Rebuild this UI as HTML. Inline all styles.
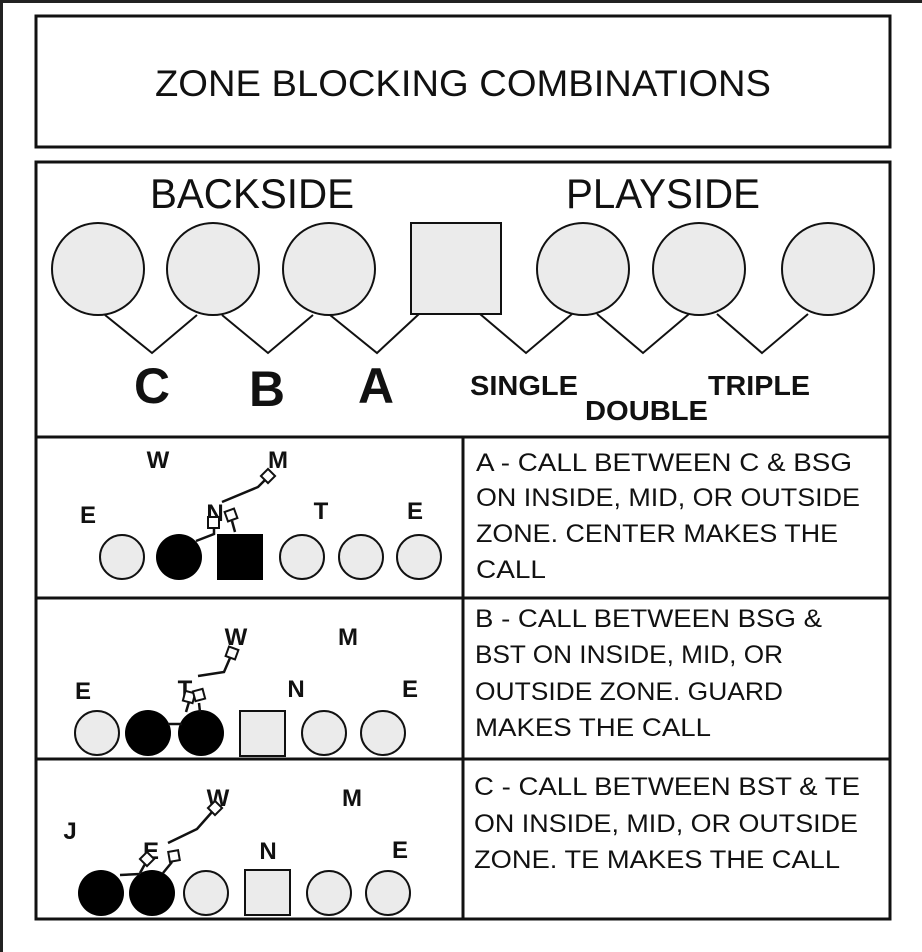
<!DOCTYPE html>
<html><head><meta charset="utf-8"><style>
html,body{margin:0;padding:0;background:#fff;}
svg{display:block;}
text{font-family:"Liberation Sans",sans-serif;fill:#111;}
.b{font-weight:bold;}
</style></head><body>
<svg width="922" height="952" viewBox="0 0 922 952" xmlns="http://www.w3.org/2000/svg">
<rect x="0" y="0" width="922" height="952" fill="#fff"/>
<rect x="0" y="0" width="922" height="3" fill="#222"/>
<rect x="0" y="0" width="3" height="952" fill="#222"/>
<!-- title box -->
<rect x="36" y="16" width="854" height="131" fill="none" stroke="#111" stroke-width="3"/>
<text x="463" y="96" font-size="37" text-anchor="middle" textLength="616" lengthAdjust="spacingAndGlyphs">ZONE BLOCKING COMBINATIONS</text>
<!-- main box -->
<rect x="36" y="162" width="854" height="757" fill="none" stroke="#111" stroke-width="3"/>
<line x1="36" y1="437" x2="890" y2="437" stroke="#111" stroke-width="3"/>
<line x1="36" y1="598" x2="890" y2="598" stroke="#111" stroke-width="3"/>
<line x1="36" y1="759" x2="890" y2="759" stroke="#111" stroke-width="3"/>
<line x1="463" y1="437" x2="463" y2="919" stroke="#111" stroke-width="3"/>

<text x="252" y="208" font-size="42" text-anchor="middle" textLength="204" lengthAdjust="spacingAndGlyphs">BACKSIDE</text>
<text x="663" y="208" font-size="42" text-anchor="middle" textLength="194" lengthAdjust="spacingAndGlyphs">PLAYSIDE</text>

<g fill="#ebebeb" stroke="#111" stroke-width="2">
<circle cx="98" cy="269" r="46"/>
<circle cx="213" cy="269" r="46"/>
<circle cx="329" cy="269" r="46"/>
<rect x="411" y="223" width="90" height="91"/>
<circle cx="583" cy="269" r="46"/>
<circle cx="699" cy="269" r="46"/>
<circle cx="828" cy="269" r="46"/>
</g>
<g fill="none" stroke="#111" stroke-width="2">
<polyline points="105,315 152,353 197,315"/>
<polyline points="222,315 268,353 313,315"/>
<polyline points="330,315 377,353 419,314"/>
<polyline points="480,314 526,353 572,314"/>
<polyline points="597,314 643,353 689,314"/>
<polyline points="717,314 762,353 808,314"/>
</g>
<text class="b" x="152" y="403" font-size="50" text-anchor="middle" textLength="36" lengthAdjust="spacingAndGlyphs">C</text>
<text class="b" x="267" y="406" font-size="50" text-anchor="middle" textLength="36" lengthAdjust="spacingAndGlyphs">B</text>
<text class="b" x="376" y="403" font-size="50" text-anchor="middle" textLength="36" lengthAdjust="spacingAndGlyphs">A</text>
<text class="b" x="470" y="395" font-size="28" textLength="108" lengthAdjust="spacingAndGlyphs">SINGLE</text>
<text class="b" x="585" y="420" font-size="28" textLength="123" lengthAdjust="spacingAndGlyphs">DOUBLE</text>
<text class="b" x="708" y="395" font-size="28" textLength="102" lengthAdjust="spacingAndGlyphs">TRIPLE</text>

<!-- Row 1 -->
<g fill="#ebebeb" stroke="#111" stroke-width="2">
<circle cx="122" cy="557" r="22"/>
<circle cx="302" cy="557" r="22"/>
<circle cx="361" cy="557" r="22"/>
<circle cx="419" cy="557" r="22"/>
</g>
<circle cx="179" cy="557" r="23" fill="#000"/>
<rect x="217" y="534" width="46" height="46" fill="#000"/>
<g class="b" font-size="24">
<text class="b" x="158" y="468" text-anchor="middle">W</text>
<text class="b" x="278" y="468" text-anchor="middle">M</text>
<text class="b" x="88" y="523" text-anchor="middle">E</text>
<text class="b" x="215" y="521" text-anchor="middle">N</text>
<text class="b" x="321" y="519" text-anchor="middle">T</text>
<text class="b" x="415" y="519" text-anchor="middle">E</text>
</g>
<g fill="none" stroke="#111" stroke-width="2.5">
<polyline points="196,541 214,534 214,527"/>
<line x1="235" y1="532" x2="232" y2="521"/>
<polyline points="222,502 258,487 265,480"/>
</g>
<g fill="#fff" stroke="#111" stroke-width="2">
<rect x="208" y="517" width="11" height="11"/>
<rect x="226" y="510" width="10" height="10" transform="rotate(-20 231 515)"/>
<rect x="263" y="471" width="10" height="10" transform="rotate(45 268 476)"/>
</g>

<!-- Row 2 -->
<g fill="#ebebeb" stroke="#111" stroke-width="2">
<circle cx="97" cy="733" r="22"/>
<rect x="240" y="711" width="45" height="45"/>
<circle cx="324" cy="733" r="22"/>
<circle cx="383" cy="733" r="22"/>
</g>
<circle cx="148" cy="733" r="23" fill="#000"/>
<circle cx="201" cy="733" r="23" fill="#000"/>
<text class="b" x="236" y="645" font-size="24" text-anchor="middle">W</text>
<text class="b" x="348" y="645" font-size="24" text-anchor="middle">M</text>
<text class="b" x="83" y="699" font-size="24" text-anchor="middle">E</text>
<text class="b" x="185" y="697" font-size="24" text-anchor="middle">T</text>
<text class="b" x="296" y="697" font-size="24" text-anchor="middle">N</text>
<text class="b" x="410" y="697" font-size="24" text-anchor="middle">E</text>
<g fill="none" stroke="#111" stroke-width="2.5">
<line x1="168" y1="724" x2="182" y2="724"/>
<line x1="186" y1="712" x2="189" y2="702"/>
<line x1="200" y1="712" x2="199" y2="703"/>
<polyline points="198,676 224,672 230,658"/>
</g>
<g fill="#fff" stroke="#111" stroke-width="2">
<rect x="184" y="692" width="10" height="10" transform="rotate(15 189 697)"/>
<rect x="194" y="690" width="10" height="10" transform="rotate(-15 199 695)"/>
<rect x="227" y="648" width="10" height="10" transform="rotate(20 232 653)"/>
</g>

<!-- Row 3 -->
<g fill="#ebebeb" stroke="#111" stroke-width="2">
<circle cx="206" cy="893" r="22"/>
<rect x="245" y="870" width="45" height="45"/>
<circle cx="329" cy="893" r="22"/>
<circle cx="388" cy="893" r="22"/>
</g>
<circle cx="101" cy="893" r="23" fill="#000"/>
<circle cx="152" cy="893" r="23" fill="#000"/>
<text class="b" x="70" y="839" font-size="24" text-anchor="middle">J</text>
<text class="b" x="218" y="806" font-size="24" text-anchor="middle">W</text>
<text class="b" x="352" y="806" font-size="24" text-anchor="middle">M</text>
<text class="b" x="151" y="859" font-size="24" text-anchor="middle">E</text>
<text class="b" x="268" y="859" font-size="24" text-anchor="middle">N</text>
<text class="b" x="400" y="858" font-size="24" text-anchor="middle">E</text>
<g fill="none" stroke="#111" stroke-width="2.5">
<line x1="120" y1="875" x2="140" y2="874"/>
<line x1="140" y1="873" x2="145" y2="864"/>
<line x1="163" y1="873" x2="172" y2="862"/>
<polyline points="168,843 197,829 212,812"/>
</g>
<g fill="#fff" stroke="#111" stroke-width="2">
<rect x="142" y="854" width="10" height="10" transform="rotate(45 147 859)"/>
<rect x="169" y="851" width="10" height="10" transform="rotate(-10 174 856)"/>
<rect x="210" y="803" width="10" height="10" transform="rotate(45 215 808)"/>
</g>

<!-- Right text -->
<g font-size="25">
<text x="476" y="471" textLength="376" lengthAdjust="spacingAndGlyphs">A - CALL BETWEEN C &amp; BSG</text>
<text x="476" y="506" textLength="384" lengthAdjust="spacingAndGlyphs">ON INSIDE, MID, OR OUTSIDE</text>
<text x="476" y="542" textLength="362" lengthAdjust="spacingAndGlyphs">ZONE. CENTER MAKES THE</text>
<text x="476" y="578" textLength="70" lengthAdjust="spacingAndGlyphs">CALL</text>
<text x="475" y="627" textLength="347" lengthAdjust="spacingAndGlyphs">B - CALL BETWEEN BSG &amp;</text>
<text x="475" y="663" textLength="308" lengthAdjust="spacingAndGlyphs">BST ON INSIDE, MID, OR</text>
<text x="475" y="700" textLength="308" lengthAdjust="spacingAndGlyphs">OUTSIDE ZONE. GUARD</text>
<text x="475" y="736" textLength="236" lengthAdjust="spacingAndGlyphs">MAKES THE CALL</text>
<text x="474" y="795" textLength="386" lengthAdjust="spacingAndGlyphs">C - CALL BETWEEN BST &amp; TE</text>
<text x="474" y="832" textLength="384" lengthAdjust="spacingAndGlyphs">ON INSIDE, MID, OR OUTSIDE</text>
<text x="474" y="868" textLength="366" lengthAdjust="spacingAndGlyphs">ZONE. TE MAKES THE CALL</text>
</g>
</svg>
</body></html>
